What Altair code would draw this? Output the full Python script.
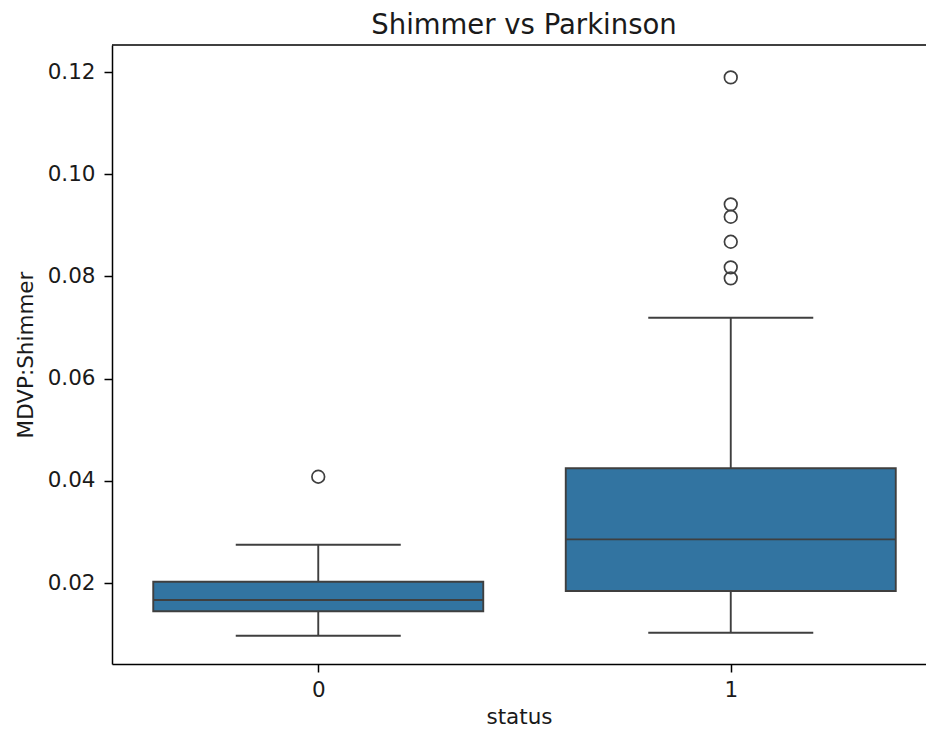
import altair as alt
import pandas as pd

# ---- data ----
status = [0, 1]
q1 = [0.01446, 0.01843]
median = [0.01667, 0.02855]
q3 = [0.02025, 0.04245]
whisk_lo = [0.00969, 0.01027]
whisk_hi = [0.02750, 0.07192]

outlier_status = [0, 1, 1, 1, 1, 1, 1]
outlier_values = [0.0408, 0.11896, 0.09411, 0.09168, 0.08679, 0.08178, 0.07963]

y_ticks = [0.02, 0.04, 0.06, 0.08, 0.10, 0.12]
x_ticks = [0, 1]

BOX_FILL = "#3274a1"
LINE = "#3f3f3f"
FONT = "DejaVu Sans"
LW = 1.9
FS = 21.5

box_df = pd.DataFrame({
    "status": status, "q1": q1, "median": median, "q3": q3,
    "lo": whisk_lo, "hi": whisk_hi,
})
out_df = pd.DataFrame({"status": outlier_status, "value": outlier_values})

x_scale = alt.Scale(domain=[-0.5, 1.4733], nice=False, zero=False)
y_scale = alt.Scale(domain=[0.00415, 0.1253], nice=False, zero=False)

x_axis = alt.Axis(values=x_ticks, format="d", grid=False, title="status",
                  domainColor="black", domainWidth=1.5, tickColor="black",
                  tickWidth=1.5, tickSize=8, labelPadding=7,
                  labelFontSize=FS, titleFontSize=FS, titleFontWeight="normal",
                  labelFont=FONT, titleFont=FONT, labelColor="#1a1a1a",
                  titleColor="#1a1a1a", titlePadding=6)
y_axis = alt.Axis(values=y_ticks, format=".2f", grid=False, title="MDVP:Shimmer",
                  domainColor="black", domainWidth=1.5, tickColor="black",
                  tickWidth=1.5, tickSize=8, labelPadding=9,
                  labelFontSize=FS, titleFontSize=FS, titleFontWeight="normal",
                  labelFont=FONT, titleFont=FONT, labelColor="#1a1a1a",
                  titleColor="#1a1a1a", titlePadding=10)

base = alt.Chart(box_df).transform_calculate(
    box_l="datum.status - 0.4", box_r="datum.status + 0.4",
    cap_l="datum.status - 0.2", cap_r="datum.status + 0.2",
)

whisker = base.mark_rule(color=LINE, strokeWidth=LW).encode(
    x=alt.X("status:Q", scale=x_scale, axis=x_axis),
    y=alt.Y("lo:Q", scale=y_scale, axis=y_axis),
    y2="hi:Q",
)
cap_lo = base.mark_rule(color=LINE, strokeWidth=LW).encode(
    x=alt.X("cap_l:Q", scale=x_scale), x2="cap_r:Q",
    y=alt.Y("lo:Q", scale=y_scale),
)
cap_hi = base.mark_rule(color=LINE, strokeWidth=LW).encode(
    x=alt.X("cap_l:Q", scale=x_scale), x2="cap_r:Q",
    y=alt.Y("hi:Q", scale=y_scale),
)
box = base.mark_bar(fill=BOX_FILL, stroke=LINE, strokeWidth=LW).encode(
    x=alt.X("box_l:Q", scale=x_scale), x2="box_r:Q",
    y=alt.Y("q1:Q", scale=y_scale), y2="q3:Q",
)
med = base.mark_rule(color=LINE, strokeWidth=LW).encode(
    x=alt.X("box_l:Q", scale=x_scale), x2="box_r:Q",
    y=alt.Y("median:Q", scale=y_scale),
)
outliers = alt.Chart(out_df).mark_point(
    shape="circle", filled=False, color=LINE, strokeWidth=1.7, size=160, opacity=1
).encode(
    x=alt.X("status:Q", scale=x_scale),
    y=alt.Y("value:Q", scale=y_scale),
)
top_border = alt.Chart(alt.Data(values=[{}])).mark_rule(
    color="black", strokeWidth=1.5
).encode(x=alt.value(0), x2=alt.value(814), y=alt.value(0))

chart = alt.layer(whisker, cap_lo, cap_hi, box, med, outliers, top_border).properties(
    width=814, height=619,
    title=alt.TitleParams("Shimmer vs Parkinson", font=FONT, fontSize=27.5,
                          fontWeight="normal", color="#1a1a1a", offset=5, dx=5),
    autosize=alt.AutoSizeParams(type="none"),
    padding={"left": 112, "top": 45, "right": 0, "bottom": 69},
).configure_view(stroke=None)

chart.save("out.html", embed_options={"renderer": "svg", "actions": False})
